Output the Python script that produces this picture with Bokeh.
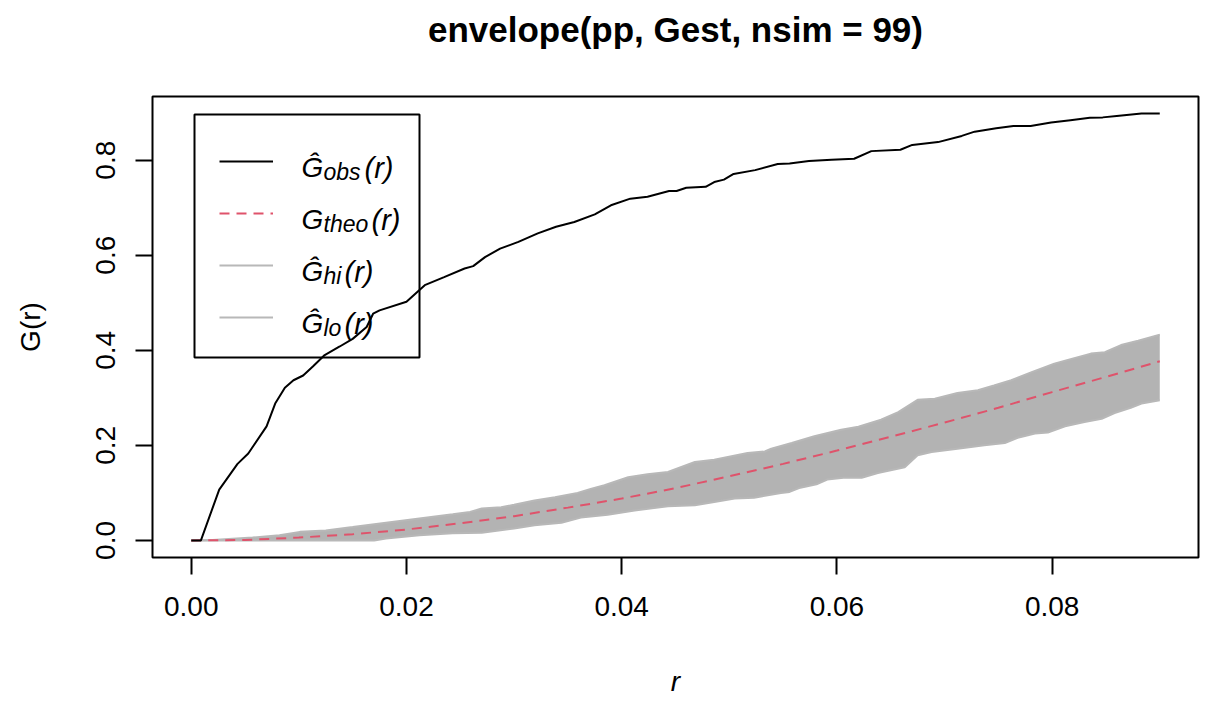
from bokeh.embed import file_html
from bokeh.models import (
    BoxAnnotation,
    FixedTicker,
    Label,
    Legend,
    LegendItem,
    LinearAxis,
    NumeralTickFormatter,
    Range1d,
)
from bokeh.plotting import figure
from bokeh.resources import INLINE

# values
r_obs = [0.0, 0.0009, 0.0026, 0.0043, 0.0053, 0.0070, 0.0078, 0.0087, 0.0095, 0.0104,
         0.0113, 0.0124, 0.0138, 0.0150, 0.0163, 0.0169, 0.0175, 0.0200, 0.0217, 0.0235,
         0.0254, 0.0262, 0.0273, 0.0287, 0.0304, 0.0322, 0.0339, 0.0356, 0.0375, 0.0390,
         0.0408, 0.0424, 0.0444, 0.0451, 0.0460, 0.0478, 0.0486, 0.0495, 0.0504, 0.0524,
         0.0545, 0.0556, 0.0574, 0.0595, 0.0616, 0.0632, 0.0659, 0.0670, 0.0694, 0.0716,
         0.0728, 0.0748, 0.0764, 0.0780, 0.0799, 0.0817, 0.0835, 0.0847, 0.0860, 0.0883,
         0.0900]
g_obs = [0.0, 0.0, 0.107, 0.161, 0.183, 0.240, 0.288, 0.321, 0.337, 0.347,
         0.366, 0.390, 0.408, 0.424, 0.449, 0.477, 0.484, 0.502, 0.537, 0.554,
         0.572, 0.577, 0.596, 0.614, 0.628, 0.646, 0.660, 0.670, 0.686, 0.705,
         0.719, 0.723, 0.735, 0.735, 0.742, 0.744, 0.754, 0.759, 0.771, 0.779,
         0.792, 0.793, 0.798, 0.801, 0.803, 0.819, 0.822, 0.832, 0.838, 0.851,
         0.860, 0.867, 0.872, 0.872, 0.879, 0.884, 0.889, 0.890, 0.893, 0.898,
         0.898]

r_theo = [0.0, 0.005, 0.010, 0.015, 0.020, 0.025, 0.030, 0.035, 0.040, 0.045,
          0.050, 0.055, 0.060, 0.065, 0.070, 0.075, 0.080, 0.085, 0.090]
g_theo = [0.0, 0.001, 0.006, 0.013, 0.023, 0.036, 0.051, 0.069, 0.088, 0.110,
          0.135, 0.161, 0.189, 0.218, 0.248, 0.279, 0.312, 0.344, 0.377]

r_hi = [0.0, 0.0020, 0.0057, 0.0082, 0.0101, 0.0125, 0.0150, 0.0181, 0.0212, 0.0243,
        0.0259, 0.0270, 0.0288, 0.0300, 0.0319, 0.0338, 0.0359, 0.0372, 0.0384, 0.0406,
        0.0424, 0.0443, 0.0468, 0.0486, 0.0517, 0.0533, 0.0539, 0.0558, 0.0579, 0.0604,
        0.0620, 0.0641, 0.0657, 0.0675, 0.0691, 0.0712, 0.0731, 0.0746, 0.0762, 0.0781,
        0.0802, 0.0818, 0.0836, 0.0849, 0.0864, 0.0880, 0.0900]
g_hi = [0.0, 0.001, 0.006, 0.011, 0.018, 0.021, 0.028, 0.037, 0.046, 0.055,
        0.060, 0.067, 0.070, 0.075, 0.084, 0.091, 0.100, 0.109, 0.116, 0.133,
        0.139, 0.144, 0.165, 0.170, 0.184, 0.187, 0.193, 0.205, 0.219, 0.233,
        0.239, 0.254, 0.270, 0.296, 0.298, 0.310, 0.316, 0.326, 0.337, 0.354,
        0.372, 0.382, 0.393, 0.396, 0.411, 0.420, 0.433]

r_lo = [0.0, 0.0170, 0.0181, 0.0212, 0.0243, 0.0270, 0.0300, 0.0319, 0.0344, 0.0362,
        0.0387, 0.0412, 0.0443, 0.0468, 0.0486, 0.0505, 0.0523, 0.0548, 0.0556, 0.0566,
        0.0581, 0.0591, 0.0606, 0.0623, 0.0638, 0.0663, 0.0675, 0.0688, 0.0712, 0.0737,
        0.0756, 0.0768, 0.0784, 0.0796, 0.0812, 0.0830, 0.0846, 0.0858, 0.0873, 0.0883,
        0.0900]
g_lo = [0.0, 0.0, 0.004, 0.011, 0.015, 0.016, 0.025, 0.032, 0.037, 0.048,
        0.054, 0.063, 0.072, 0.074, 0.081, 0.088, 0.090, 0.100, 0.102, 0.111,
        0.118, 0.128, 0.132, 0.132, 0.142, 0.154, 0.179, 0.186, 0.193, 0.200,
        0.205, 0.216, 0.225, 0.227, 0.240, 0.249, 0.256, 0.268, 0.279, 0.288,
        0.295]

x_ticks = [0.0, 0.02, 0.04, 0.06, 0.08]
y_ticks = [0.0, 0.2, 0.4, 0.6, 0.8]
title_text = "envelope(pp, Gest, nsim = 99)"

FONT = "Liberation Sans"
SHADE = "#B3B3B3"
RED = "#DF536B"

# R pads the data range by 4% on each side
xmin, xmax = min(r_obs), max(r_obs)
ymin = min(g_obs + g_lo)
ymax = max(g_obs + g_hi)
X0, X1 = xmin - 0.04 * (xmax - xmin), xmax + 0.04 * (xmax - xmin)
Y0, Y1 = ymin - 0.04 * (ymax - ymin), ymax + 0.04 * (ymax - ymin)

# frame geometry in canvas pixels
FL, FT, FW, FH = 152, 96, 1046, 461

p = figure(
    frame_width=FW,
    frame_height=FH,
    min_border_left=FL,
    min_border_right=18,
    min_border_top=FT,
    min_border_bottom=153,
    x_range=Range1d(X0, X1),
    y_range=Range1d(Y0, Y1),
    x_axis_label="r",
    y_axis_label="G(r)",
    output_backend="svg",
    toolbar_location=None,
)
p.grid.visible = False
p.outline_line_color = "black"
p.outline_line_width = 2
p.outline_line_alpha = 1.0
p.background_fill_color = "white"
p.border_fill_color = "white"

xax = p.below[0]
yax = p.left[0]
for ax, ticks, fmt in ((xax, x_ticks, "0.00"), (yax, y_ticks, "0.0")):
    ax.ticker = FixedTicker(ticks=ticks, minor_ticks=[])
    ax.formatter = NumeralTickFormatter(format=fmt)
    ax.axis_line_color = None
    ax.major_tick_in = 0
    ax.major_tick_out = 17
    ax.major_tick_line_color = "black"
    ax.major_tick_line_width = 2
    ax.minor_tick_line_color = None
    ax.major_label_text_font = FONT
    ax.major_label_text_font_size = "28px"
    ax.major_label_text_color = "black"
    ax.axis_label_text_font = FONT
    ax.axis_label_text_font_size = "28px"
    ax.axis_label_text_color = "black"
xax.major_label_standoff = 22
yax.major_label_standoff = 20
yax.major_label_orientation = "parallel"
xax.axis_label_standoff = 47
yax.axis_label_standoff = 48
xax.axis_label_text_font_style = "italic"
yax.axis_label_text_font_style = "normal"

# main title, carried by a bare axis above the frame so its height can be set
top = LinearAxis(
    ticker=FixedTicker(ticks=[], minor_ticks=[]),
    axis_label=title_text,
    axis_line_color=None,
    major_tick_line_color=None,
    minor_tick_line_color=None,
    major_tick_in=0,
    major_tick_out=0,
    major_label_standoff=0,
    axis_label_standoff=48,
    axis_label_text_font=FONT,
    axis_label_text_font_size="35px",
    axis_label_text_font_style="bold",
    axis_label_text_color="black",
)
p.add_layout(top, "above")

# envelope
p.patch(r_hi + r_lo[::-1], g_hi + g_lo[::-1], fill_color=SHADE, line_color=None)
hi_r = p.line(r_hi, g_hi, color="#B8B8B8", line_width=2)
lo_r = p.line(r_lo, g_lo, color="#B8B8B8", line_width=2)
theo_r = p.line(r_theo, g_theo, color=RED, line_width=2, line_dash="10 7")
obs_r = p.line(r_obs, g_obs, color="black", line_width=2)

# legend swatches; the frame of the legend is drawn separately
legend = Legend(
    items=[
        LegendItem(label=" ", renderers=[obs_r]),
        LegendItem(label=" ", renderers=[theo_r]),
        LegendItem(label=" ", renderers=[hi_r]),
        LegendItem(label=" ", renderers=[lo_r]),
    ],
    location=(67, 214),
    padding=0,
    spacing=0,
    margin=0,
    glyph_width=54,
    glyph_height=52,
    label_height=52,
    label_width=20,
    label_standoff=10,
    border_line_color=None,
    background_fill_alpha=0,
    label_text_font_size="6px",
)
p.add_layout(legend)


def dx(px):
    return X0 + (px - FL) * (X1 - X0) / FW


def dy(py):
    return Y1 - (py - FT) * (Y1 - Y0) / FH


p.add_layout(BoxAnnotation(
    left=dx(194), right=dx(419), top=dy(114), bottom=dy(357),
    fill_alpha=0, line_color="black", line_width=2, line_alpha=1.0,
))


def add_text(px, py, txt, size, style="normal"):
    p.add_layout(Label(
        x=dx(px), y=dy(py), text=txt,
        text_font=FONT, text_font_size=f"{size}px", text_font_style=style,
        text_color="black", text_align="left", text_baseline="alphabetic",
    ))


# legend labels written as G-hat with subscripts
sub_names = ["obs", "theo", "hi", "lo"]
sub_w = [39, 46, 19, 19]
heads = ["\u011c", "G", "\u011c", "\u011c"]
for i, (head, sub, w) in enumerate(zip(heads, sub_names, sub_w)):
    base = 167 + 52 * i
    add_text(301, base, head, 28, style="italic")
    add_text(323, base + 4, sub, 23, style="italic")
    add_text(325 + w, base, "(r)", 29, style="italic")

open("out.html", "w").write(file_html(p, INLINE))
